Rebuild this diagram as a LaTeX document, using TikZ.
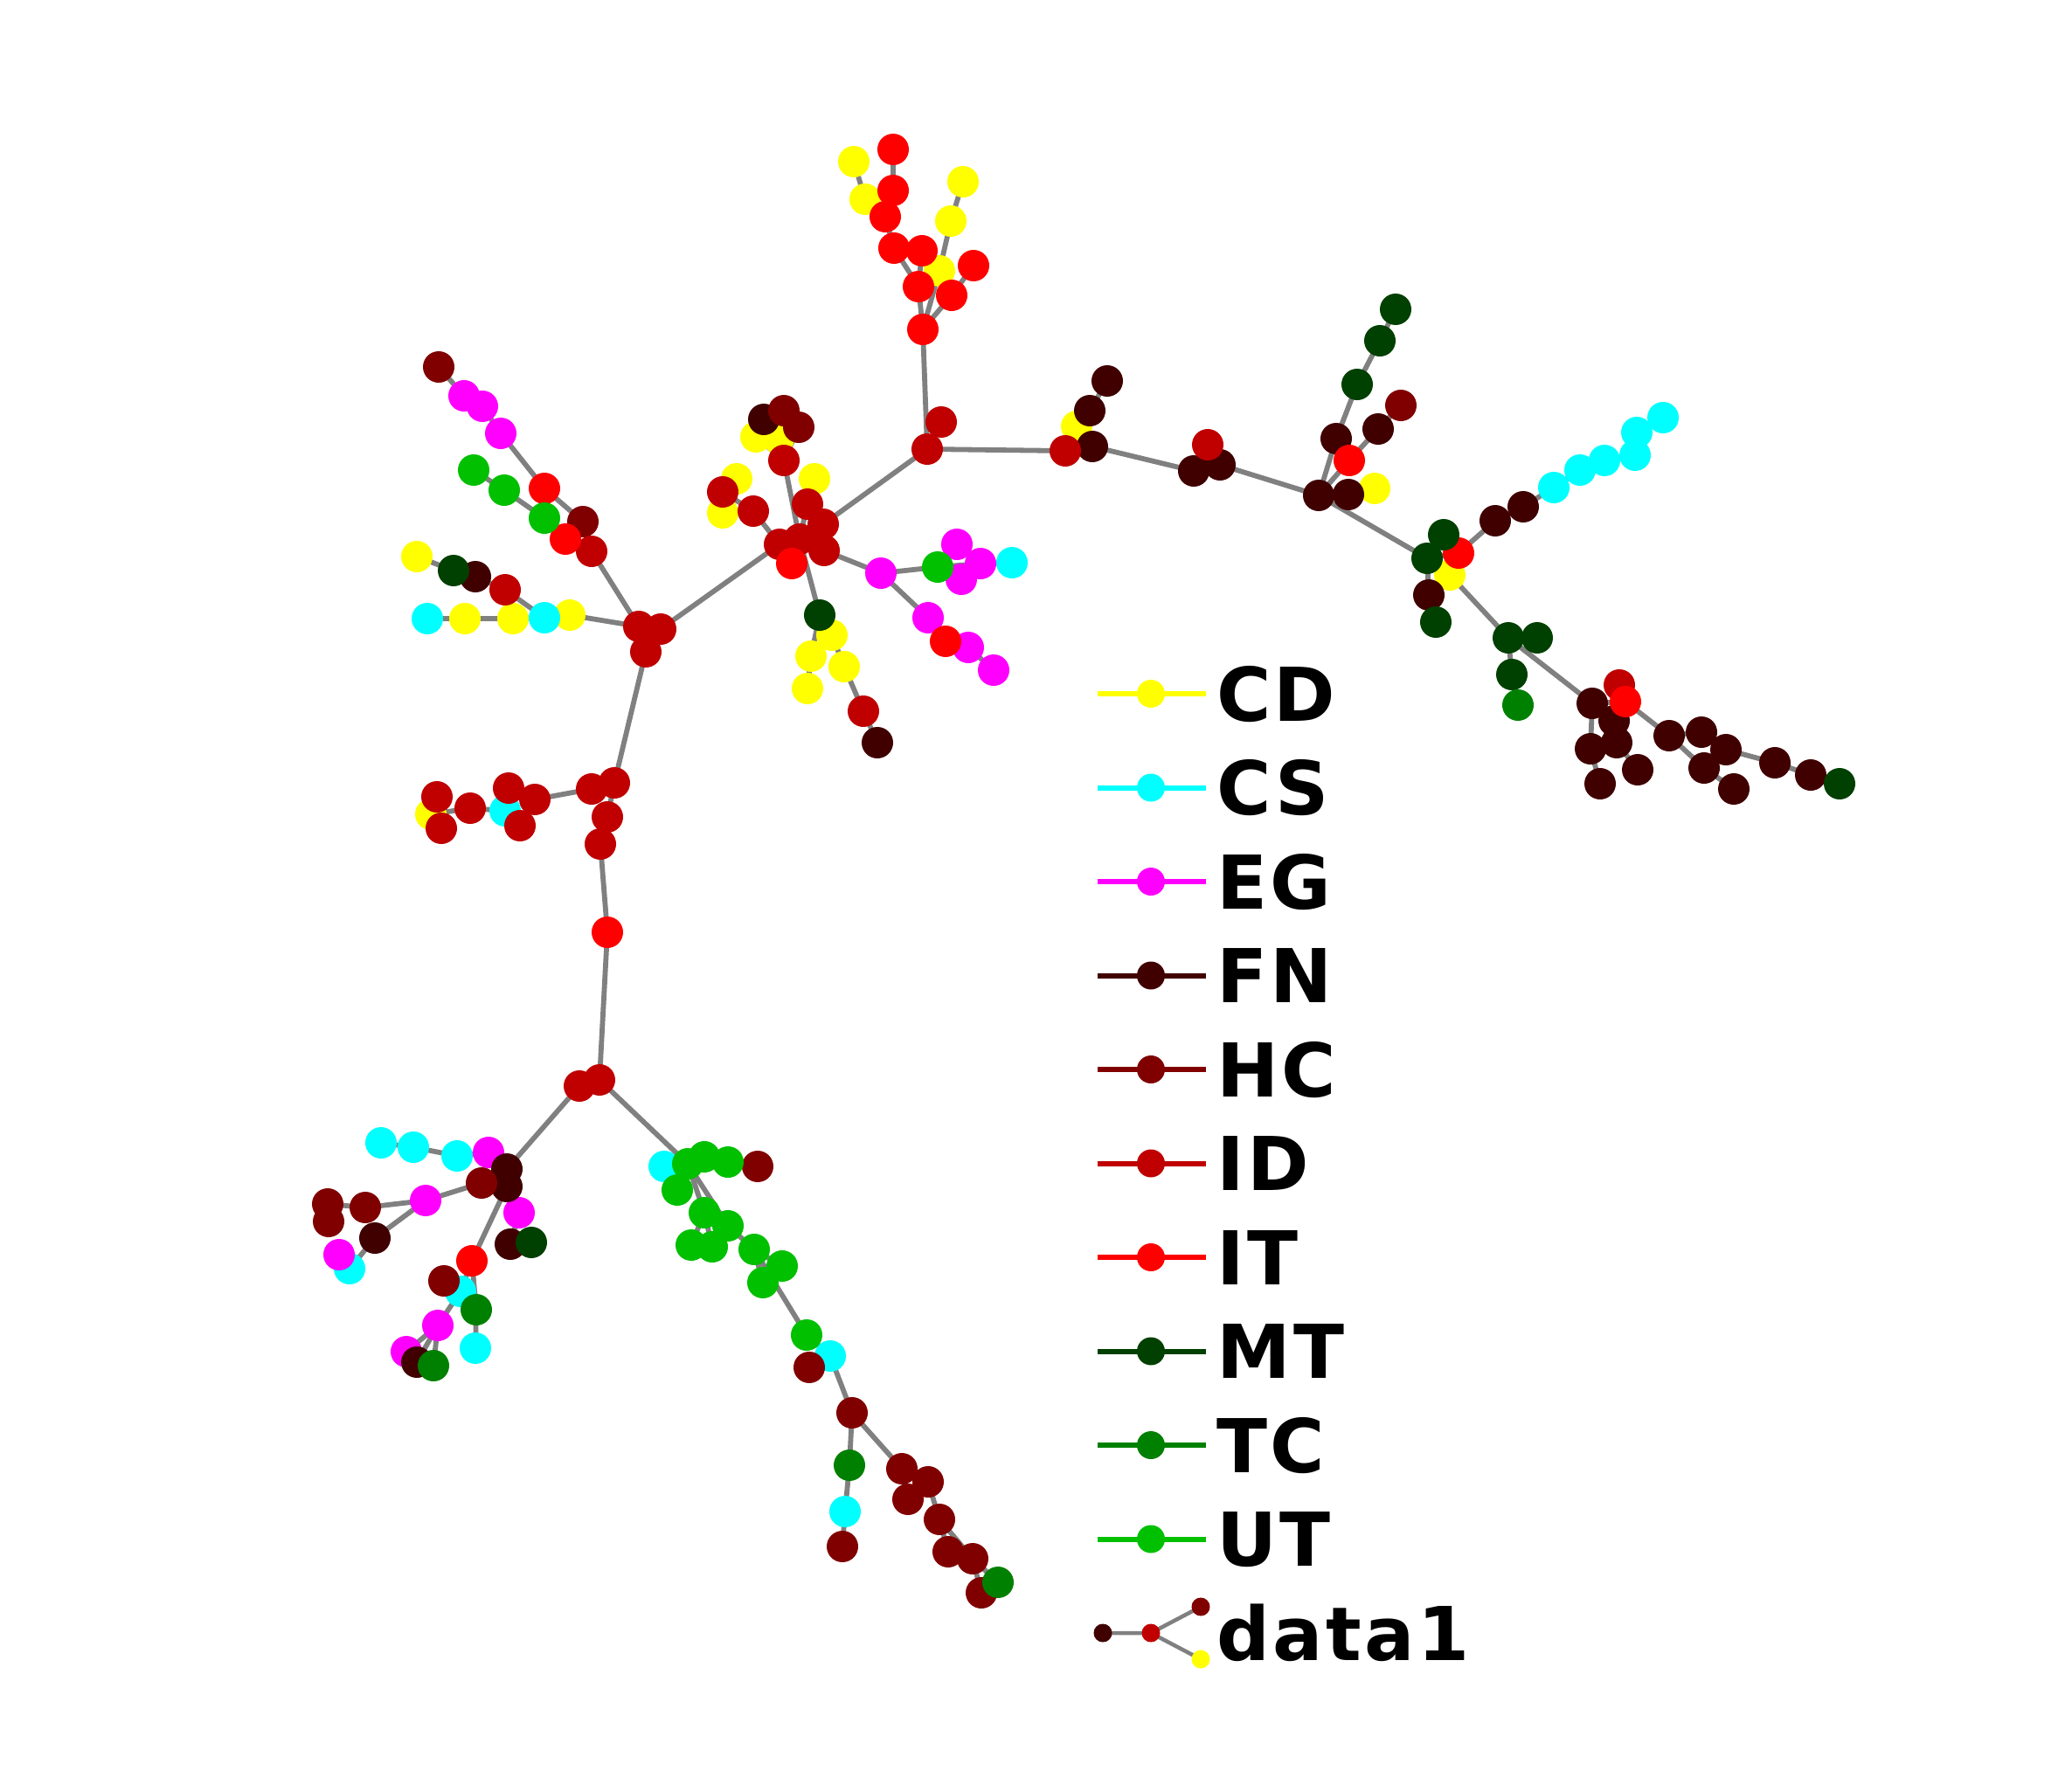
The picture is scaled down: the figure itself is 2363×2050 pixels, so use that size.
\documentclass[tikz,border=0pt]{standalone}
\usepackage{fontspec}
\newfontfamily\legfont{DejaVu Sans}[LetterSpace=4]
\pgfdeclarelayer{paper}
\pgfdeclarelayer{bg}
\pgfsetlayers{paper,bg,main}
\definecolor{cCD}{RGB}{255,255,0}
\definecolor{cCS}{RGB}{0,255,255}
\definecolor{cEG}{RGB}{255,0,255}
\definecolor{cFN}{RGB}{64,0,0}
\definecolor{cHC}{RGB}{128,0,0}
\definecolor{cID}{RGB}{192,0,0}
\definecolor{cIT}{RGB}{255,0,0}
\definecolor{cMT}{RGB}{0,64,0}
\definecolor{cTC}{RGB}{0,128,0}
\definecolor{cUT}{RGB}{0,192,0}
\definecolor{egray}{RGB}{128,128,128}
\begin{document}
\begin{tikzpicture}[x=1pt,y=-1pt,
  dot/.style={circle,inner sep=0pt,minimum size=36pt,draw=none},
  nCD/.style={dot,fill=cCD}, nCS/.style={dot,fill=cCS}, nEG/.style={dot,fill=cEG},
  nFN/.style={dot,fill=cFN}, nHC/.style={dot,fill=cHC}, nID/.style={dot,fill=cID},
  nIT/.style={dot,fill=cIT}, nMT/.style={dot,fill=cMT}, nTC/.style={dot,fill=cTC},
  nUT/.style={dot,fill=cUT},
  edge/.style={draw=egray,line width=5.8pt},
  lgdot/.style={circle,inner sep=0pt,minimum size=32pt,draw=none},
  smalldot/.style={circle,inner sep=0pt,minimum size=21pt,draw=none},
  legtext/.style={anchor=base west,inner sep=0pt,font=\legfont\bfseries\fontsize{85}{90}\selectfont}]
\begin{pgfonlayer}{paper}
\fill[white] (0,0) rectangle (2363,2050);
\end{pgfonlayer}
\useasboundingbox (0,0) rectangle (2363,2050);
% ---------- CD
\node[nCD] (t8) at (977,185) {};
\node[nCD] (t9) at (990,228) {};
\node[nCD] (t10) at (1075,310) {};
\node[nCD] (t11) at (1088,253) {};
\node[nCD] (t12) at (1102,208) {};
\node[nCD] (m3) at (1232,488) {};
\node[nCD] (r2) at (1573,559) {};
\node[nCD] (s4) at (1659,658) {};
\node[nCD] (h11) at (865,500) {};
\node[nCD] (h12) at (891,502) {};
\node[nCD] (h13) at (932,548) {};
\node[nCD] (h16) at (843,548) {};
\node[nCD] (h17) at (827,587) {};
\node[nCD] (h29) at (952,727) {};
\node[nCD] (h30) at (928,751) {};
\node[nCD] (h31) at (966,763) {};
\node[nCD] (h32) at (924,788) {};
\node[nCD] (b1) at (652,704) {};
\node[nCD] (b3) at (587,708) {};
\node[nCD] (b4) at (532,708) {};
\node[nCD] (b9) at (477,637) {};
\node[nCD] (e7) at (493,932) {};
% ---------- CS
\node[nCS] (c1) at (1778,558) {};
\node[nCS] (c2) at (1808,538) {};
\node[nCS] (c3) at (1836,527) {};
\node[nCS] (c4) at (1871,521) {};
\node[nCS] (c5) at (1873,495) {};
\node[nCS] (c6) at (1903,478) {};
\node[nCS] (h23) at (1158,644) {};
\node[nCS] (b2) at (623,707) {};
\node[nCS] (b5) at (489,708) {};
\node[nCS] (e4) at (578,928) {};
\node[nCS] (k5) at (523,1323) {};
\node[nCS] (k6) at (473,1313) {};
\node[nCS] (k7) at (436,1308) {};
\node[nCS] (k14) at (400,1452) {};
\node[nCS] (k20) at (527,1478) {};
\node[nCS] (k22) at (544,1543) {};
\node[nCS] (n1) at (760,1335) {};
\node[nCS] (n15) at (950,1552) {};
\node[nCS] (p3) at (967,1730) {};
% ---------- EG
\node[nEG] (h18) at (1008,656) {};
\node[nEG] (h20) at (1095,623) {};
\node[nEG] (h21) at (1122,645) {};
\node[nEG] (h22) at (1100,663) {};
\node[nEG] (h24) at (1062,707) {};
\node[nEG] (h26) at (1108,741) {};
\node[nEG] (h27) at (1137,767) {};
\node[nEG] (a8) at (573,496) {};
\node[nEG] (a9) at (552,465) {};
\node[nEG] (a10) at (531,453) {};
\node[nEG] (k4) at (559,1319) {};
\node[nEG] (k8) at (487,1374) {};
\node[nEG] (k13) at (388,1436) {};
\node[nEG] (k15) at (594,1388) {};
\node[nEG] (k23) at (501,1517) {};
\node[nEG] (k24) at (465,1547) {};
% ---------- FN
\node[nFN] (h10) at (874,480) {};
\node[nFN] (m2) at (1250,511) {};
\node[nFN] (m4) at (1247,470) {};
\node[nFN] (m5) at (1267,436) {};
\node[nFN] (m6) at (1366,539) {};
\node[nFN] (m7) at (1396,532) {};
\node[nFN] (j3) at (1509,567) {};
\node[nFN] (r1) at (1543,566) {};
\node[nFN] (r4) at (1529,502) {};
\node[nFN] (r5) at (1577,491) {};
\node[nFN] (s5) at (1635,681) {};
\node[nFN] (s7) at (1711,596) {};
\node[nFN] (s8) at (1743,580) {};
\node[nFN] (v1) at (1822,805) {};
\node[nFN] (v4) at (1847,825) {};
\node[nFN] (v5) at (1850,850) {};
\node[nFN] (v6) at (1820,857) {};
\node[nFN] (v7) at (1831,897) {};
\node[nFN] (v8) at (1874,881) {};
\node[nFN] (w1) at (1910,842) {};
\node[nFN] (w2) at (1947,838) {};
\node[nFN] (w3) at (1975,858) {};
\node[nFN] (w4) at (1950,879) {};
\node[nFN] (w5) at (1984,903) {};
\node[nFN] (w6) at (2031,873) {};
\node[nFN] (w7) at (2072,887) {};
\node[nFN] (b7) at (544,660) {};
\node[nFN] (k1) at (580,1338) {};
\node[nFN] (k2) at (580,1358) {};
\node[nFN] (k12) at (429,1417) {};
\node[nFN] (k16) at (584,1424) {};
\node[nFN] (k25) at (477,1559) {};
\node[nFN] (h34) at (1004,850) {};
% ---------- HC
\node[nHC] (h8) at (914,489) {};
\node[nHC] (h9) at (897,470) {};
\node[nHC] (r6) at (1603,464) {};
\node[nHC] (a3) at (667,597) {};
\node[nHC] (a11) at (502,420) {};
\node[nHC] (k3) at (551,1354) {};
\node[nHC] (k9) at (418,1382) {};
\node[nHC] (k10) at (375,1378) {};
\node[nHC] (k11) at (376,1398) {};
\node[nHC] (k19) at (508,1466) {};
\node[nHC] (n5) at (867,1335) {};
\node[nHC] (n16) at (926,1565) {};
\node[nHC] (p1) at (975,1617) {};
\node[nHC] (p4) at (964,1770) {};
\node[nHC] (p5) at (1032,1681) {};
\node[nHC] (p6) at (1062,1696) {};
\node[nHC] (p7) at (1039,1716) {};
\node[nHC] (p8) at (1075,1739) {};
\node[nHC] (p9) at (1085,1776) {};
\node[nHC] (p10) at (1113,1784) {};
\node[nHC] (p12) at (1123,1823) {};
% ---------- ID
\node[nID] (j1) at (1061,514) {};
\node[nID] (j2) at (1077,483) {};
\node[nID] (m1) at (1219,516) {};
\node[nID] (m8) at (1382,509) {};
\node[nID] (v2) at (1853,784) {};
\node[nID] (h1) at (892,623) {};
\node[nID] (h2) at (915,617) {};
\node[nID] (h3) at (943,630) {};
\node[nID] (h4) at (924,577) {};
\node[nID] (h5) at (942,600) {};
\node[nID] (h7) at (897,527) {};
\node[nID] (h14) at (862,585) {};
\node[nID] (h15) at (827,563) {};
\node[nID] (h33) at (988,814) {};
\node[nID] (L1) at (731,717) {};
\node[nID] (L2) at (756,720) {};
\node[nID] (L3) at (739,746) {};
\node[nID] (a1) at (677,631) {};
\node[nID] (b6) at (578,675) {};
\node[nID] (d1) at (703,896) {};
\node[nID] (d2) at (677,903) {};
\node[nID] (d3) at (695,935) {};
\node[nID] (d4) at (687,966) {};
\node[nID] (e1) at (612,915) {};
\node[nID] (e2) at (582,902) {};
\node[nID] (e3) at (595,945) {};
\node[nID] (e5) at (538,925) {};
\node[nID] (e6) at (500,912) {};
\node[nID] (e8) at (505,948) {};
\node[nID] (g1) at (686,1236) {};
\node[nID] (g2) at (663,1243) {};
% ---------- IT
\node[nIT] (t1) at (1056,377) {};
\node[nIT] (t2) at (1051,328) {};
\node[nIT] (t3) at (1023,284) {};
\node[nIT] (t4) at (1055,287) {};
\node[nIT] (t5) at (1013,248) {};
\node[nIT] (t6) at (1022,218) {};
\node[nIT] (t7) at (1022,171) {};
\node[nIT] (t13) at (1089,338) {};
\node[nIT] (t14) at (1114,304) {};
\node[nIT] (r3) at (1544,527) {};
\node[nIT] (s3) at (1669,633) {};
\node[nIT] (v3) at (1860,803) {};
\node[nIT] (h6) at (906,645) {};
\node[nIT] (h25) at (1082,734) {};
\node[nIT] (a2) at (647,617) {};
\node[nIT] (a7) at (623,559) {};
\node[nIT] (d5) at (695,1067) {};
\node[nIT] (k18) at (540,1443) {};
% ---------- MT
\node[nMT] (r7) at (1553,440) {};
\node[nMT] (r8) at (1579,390) {};
\node[nMT] (r9) at (1597,354) {};
\node[nMT] (s1) at (1633,639) {};
\node[nMT] (s2) at (1652,612) {};
\node[nMT] (s6) at (1643,712) {};
\node[nMT] (u1) at (1726,730) {};
\node[nMT] (u2) at (1759,730) {};
\node[nMT] (u3) at (1730,772) {};
\node[nMT] (w8) at (2105,897) {};
\node[nMT] (h28) at (938,704) {};
\node[nMT] (b8) at (519,653) {};
\node[nMT] (k17) at (608,1422) {};
% ---------- TC
\node[nTC] (u4) at (1737,807) {};
\node[nTC] (k21) at (545,1499) {};
\node[nTC] (k26) at (496,1563) {};
\node[nTC] (p2) at (972,1677) {};
\node[nTC] (p11) at (1142,1811) {};
% ---------- UT
\node[nUT] (h19) at (1073,649) {};
\node[nUT] (a4) at (623,593) {};
\node[nUT] (a5) at (577,561) {};
\node[nUT] (a6) at (542,538) {};
\node[nUT] (n2) at (787,1332) {};
\node[nUT] (n3) at (806,1324) {};
\node[nUT] (n4) at (833,1330) {};
\node[nUT] (n6) at (775,1362) {};
\node[nUT] (n7) at (806,1388) {};
\node[nUT] (n8) at (833,1403) {};
\node[nUT] (n9) at (791,1425) {};
\node[nUT] (n10) at (815,1427) {};
\node[nUT] (n11) at (863,1430) {};
\node[nUT] (n12) at (895,1449) {};
\node[nUT] (n13) at (873,1468) {};
\node[nUT] (n14) at (923,1528) {};
% ---------- edges
\begin{pgfonlayer}{bg}
\foreach \a/\b in {t1/t2,t2/t3,t3/t5,t5/t6,t6/t7,t2/t4,t5/t9,t9/t8,t1/t10,t10/t11,t11/t12,t1/t13,t13/t14,t1/j1,
  j1/j2,j1/m1,m1/m2,m2/m3,m3/m4,m4/m5,m2/m6,m6/m8,m6/m7,m7/j3,
  j3/r1,r1/r2,j3/r4,r4/r7,r7/r8,r8/r9,j3/r3,r3/r5,r5/r6,
  j3/s1,s1/s2,s1/s3,s3/s7,s7/s8,s8/c1,c1/c2,c2/c3,c3/c4,c4/c5,c5/c6,
  s1/s5,s5/s6,s1/s4,s4/u1,u1/u2,u1/u3,u3/u4,u1/v1,v1/v3,v3/v2,v3/w1,v1/v4,v4/v5,v5/v8,v1/v6,v6/v7,
  w1/w2,w1/w4,w4/w5,w2/w3,w3/w6,w6/w7,w7/w8,
  h2/h1,h2/h3,h2/h4,h2/h5,h2/h6,h2/h7,h7/h8,h8/h9,h8/h12,h7/h11,h11/h10,h4/h13,
  h1/h14,h14/h15,h15/h16,h15/h17,h3/h18,h18/h19,h19/h21,h21/h20,h21/h22,h21/h23,
  h18/h24,h24/h25,h25/h26,h26/h27,h2/h28,h28/h29,h29/h31,h31/h33,h33/h34,h28/h30,h30/h32,
  h5/j1,h1/L2,
  L1/L2,L1/L3,L1/a1,a1/a2,a1/a3,a2/a4,a4/a5,a5/a6,a3/a7,a7/a8,a8/a9,a9/a10,a10/a11,
  L1/b1,b1/b2,b2/b3,b3/b4,b4/b5,b2/b6,b6/b7,b7/b8,b8/b9,
  L3/d1,d1/d2,d2/e1,e1/e2,e1/e3,e2/e4,e4/e5,e5/e7,e7/e6,e7/e8,d1/d3,d3/d4,d4/d5,d5/g1,g1/g2,
  g2/k1,k1/k2,k1/k3,k3/k8,k8/k9,k9/k10,k10/k11,k8/k12,k12/k14,k14/k13,k1/k4,k4/k5,k5/k6,k6/k7,
  k2/k15,k15/k16,k16/k17,k2/k18,k18/k20,k20/k19,k18/k21,k21/k22,k20/k23,k23/k24,k23/k25,k23/k26,
  g1/n2,n2/n1,n2/n3,n3/n4,n4/n5,n2/n6,n2/n7,n7/n9,n7/n10,n2/n8,n8/n11,n11/n12,n11/n13,n11/n14,
  n14/n15,n15/n16,n15/p1,
  p1/p2,p2/p3,p3/p4,p1/p5,p5/p6,p5/p7,p6/p8,p8/p9,p8/p10,p10/p11,p10/p12}
  \draw[edge] (\a.center) -- (\b.center);
\end{pgfonlayer}
% ---------- legend
\foreach \lab/\col [count=\i from 0] in {CD/cCD,CS/cCS,EG/cEG,FN/cFN,HC/cHC,ID/cID,IT/cIT,MT/cMT,TC/cTC,UT/cUT} {
  \pgfmathsetmacro{\yy}{794+107.5*\i}
  \coordinate (lgl\i) at (1256,\yy);
  \coordinate (lgr\i) at (1380,\yy);
  \draw[draw=\col,line width=6pt] (lgl\i) -- (lgr\i);
  \node[lgdot,fill=\col] (lgm\i) at (1317,\yy) {};
  \node[legtext] (lgt\i) at (1392,\yy+31) {\lab};
}
\node[smalldot,fill=cFN] (dA) at (1262,1869) {};
\node[smalldot,fill=cID] (dB) at (1317,1869) {};
\node[smalldot,fill=cHC] (dC) at (1374,1839) {};
\node[smalldot,fill=cCD] (dD) at (1374,1899) {};
\begin{pgfonlayer}{bg}
\draw[draw=egray,line width=4.5pt] (dA.center) -- (dB.center) -- (dC.center);
\draw[draw=egray,line width=4.5pt] (dB.center) -- (dD.center);
\end{pgfonlayer}
\node[legtext] (lgt10) at (1392,1900) {data1};
\end{tikzpicture}
\end{document}
